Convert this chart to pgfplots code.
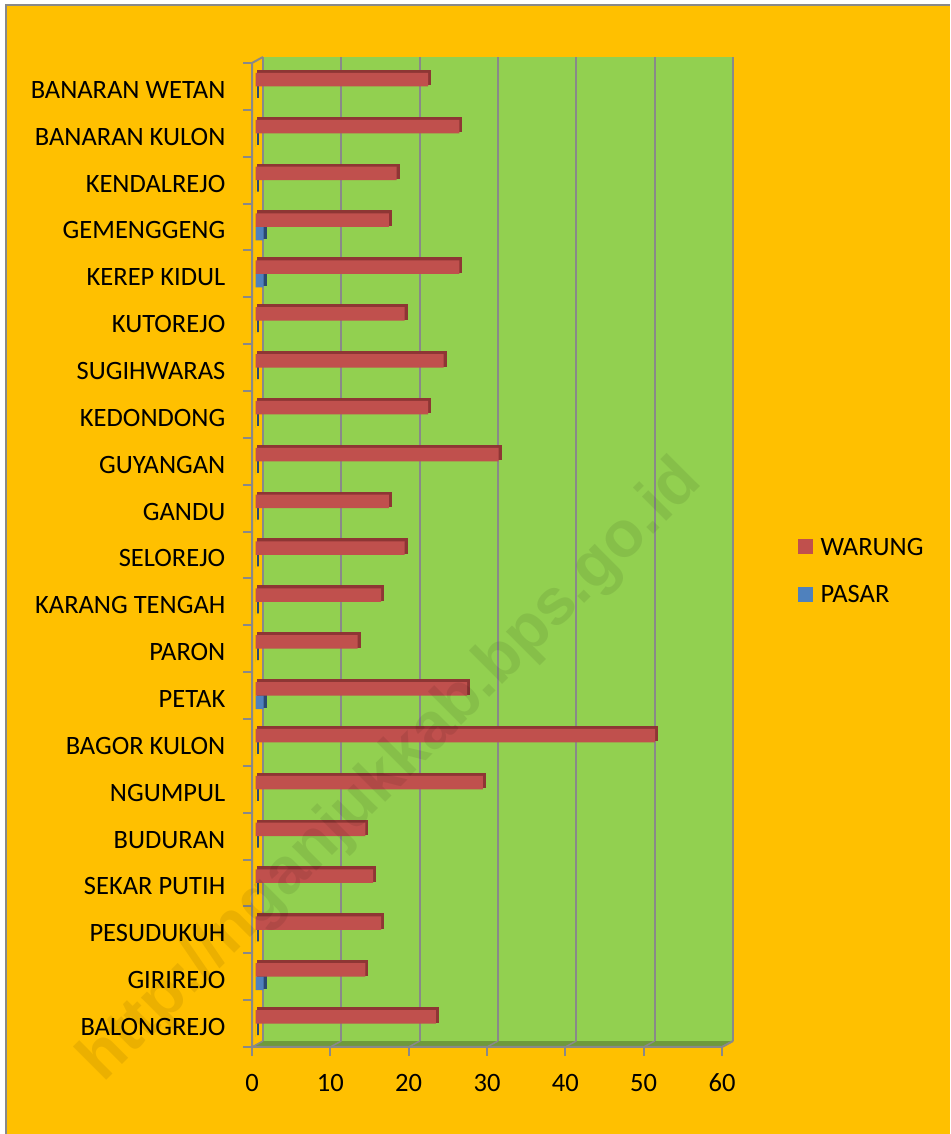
\documentclass[border=0pt]{standalone}
\usepackage{pgfplots}
\pgfplotsset{compat=1.18}
\usepackage{fontspec}
\setmainfont{Carlito}
\newfontfamily\wmfont{Liberation Sans}
\definecolor{bgor}{HTML}{FFC000}
\definecolor{plotgreen}{HTML}{92D050}
\definecolor{floorgreen}{HTML}{6E9A3C}
\definecolor{gridgrey}{HTML}{898989}
\definecolor{warung}{HTML}{C0504D}
\definecolor{warungdark}{HTML}{8E3634}
\definecolor{pasar}{HTML}{4F81BD}
\definecolor{pasardark}{HTML}{2A4A70}

\pgfplotstableread{
idx warung pasar
0 23 0
1 14 1
2 16 0
3 15 0
4 14 0
5 29 0
6 51 0
7 27 1
8 13 0
9 16 0
10 19 0
11 17 0
12 31 0
13 22 0
14 24 0
15 19 0
16 26 1
17 17 1
18 18 0
19 26 0
20 22 0
}\datatable

\begin{document}
\begin{tikzpicture}[x=1pt,y=1pt]
\path[use as bounding box, fill=white] (0,0) rectangle (950,1134);
\fill[bgor] (6,0) rectangle (950,1129);
\draw[gridgrey, line width=2pt] (6,0) -- (6,1129) -- (950,1129);
% floor of the 3D plot
\fill[floorgreen] (252,87) -- (263,93) -- (733,93) -- (722,87) -- cycle;
\foreach \k in {0,...,6} {
  \draw[gridgrey, line width=1.5pt] (263+78.333*\k,93) -- (252+78.333*\k,87);
}
\begin{axis}[
  at={(263pt,93pt)}, anchor=south west,
  scale only axis, width=470pt, height=984pt,
  xmin=0, xmax=60, ymin=-0.5, ymax=20.5,
  enlargelimits=false, clip=false,
  axis line style={draw=none},
  axis background/.style={fill=plotgreen},
  xtick={0,10,...,60},
  xmajorgrids, grid style={draw=gridgrey, line width=2pt},
  major tick length=0pt,
  ytick={0,...,20},
  yticklabels={BALONGREJO,GIRIREJO,PESUDUKUH,SEKAR PUTIH,BUDURAN,NGUMPUL,BAGOR KULON,PETAK,PARON,KARANG TENGAH,SELOREJO,GANDU,GUYANGAN,KEDONDONG,SUGIHWARAS,KUTOREJO,KEREP KIDUL,GEMENGGENG,KENDALREJO,BANARAN KULON,BANARAN WETAN},
  tick label style={font=\fontsize{26.5}{31}\selectfont, inner sep=0pt, text height=17pt, text depth=0pt, text=black},
  yticklabel style={anchor=east, xshift=-37.5pt, yshift=-9.5pt},
  xticklabel style={anchor=north, xshift=-11pt, yshift=-33.5pt},
  /pgf/number format/assume math mode=true,
  xbar, bar width=13.5pt,
  legend style={at={(1,0.4784)}, anchor=west, xshift=65pt, draw=none, fill=none, inner sep=0pt,
    row sep=30.5pt, nodes={inner sep=0pt, text height=17pt, text depth=0pt, font=\fontsize{26.5}{31}\selectfont},
    /tikz/every odd column/.append style={column sep=8pt}},
  legend cell align=left,
]
% PASAR: dark side, then front face
\addplot[forget plot, bar shift=-6.75pt, xshift=-5.3pt, yshift=-4pt, fill=pasardark, draw=pasardark, line width=2pt] table[x=pasar, y=idx] {\datatable};
\addplot[forget plot, bar shift=-6.75pt, xshift=-7.3pt, yshift=-6pt, fill=pasar, draw=none] table[x=pasar, y=idx] {\datatable};
% WARUNG: dark side, then front face
\addplot[forget plot, bar shift=6.75pt, xshift=-5.3pt, yshift=-4pt, fill=warungdark, draw=warungdark, line width=2pt] table[x=warung, y=idx] {\datatable};
\addplot[forget plot, bar shift=6.75pt, xshift=-7.3pt, yshift=-6pt, fill=warung, draw=none] table[x=warung, y=idx] {\datatable};
\addlegendimage{legend image code/.code={\fill[warung] (0pt,-7pt) rectangle (14pt,7pt);}}
\addlegendentry{WARUNG}
\addlegendimage{legend image code/.code={\fill[pasar] (0pt,-7pt) rectangle (14pt,7pt);}}
\addlegendentry{PASAR}
\end{axis}
% front frame of the 3D plot
\draw[gridgrey, line width=2pt] (263,1077) -- (252,1071) -- (252,87) -- (722,87) -- (733,93);
\foreach \k in {0,...,6} {
  \draw[gridgrey, line width=2pt] (252+78.333*\k,87) -- ++(0,-9);
}
\foreach \k in {0,...,21} {
  \draw[gridgrey, line width=2pt] (252,87+46.857*\k) -- ++(-9,0);
}
% watermark
\node[rotate=45, font=\wmfont\bfseries\fontsize{65}{70}\selectfont, text=black, opacity=0.08] at (392,362) {http://nganjukkab.bps.go.id};
\end{tikzpicture}
\end{document}
